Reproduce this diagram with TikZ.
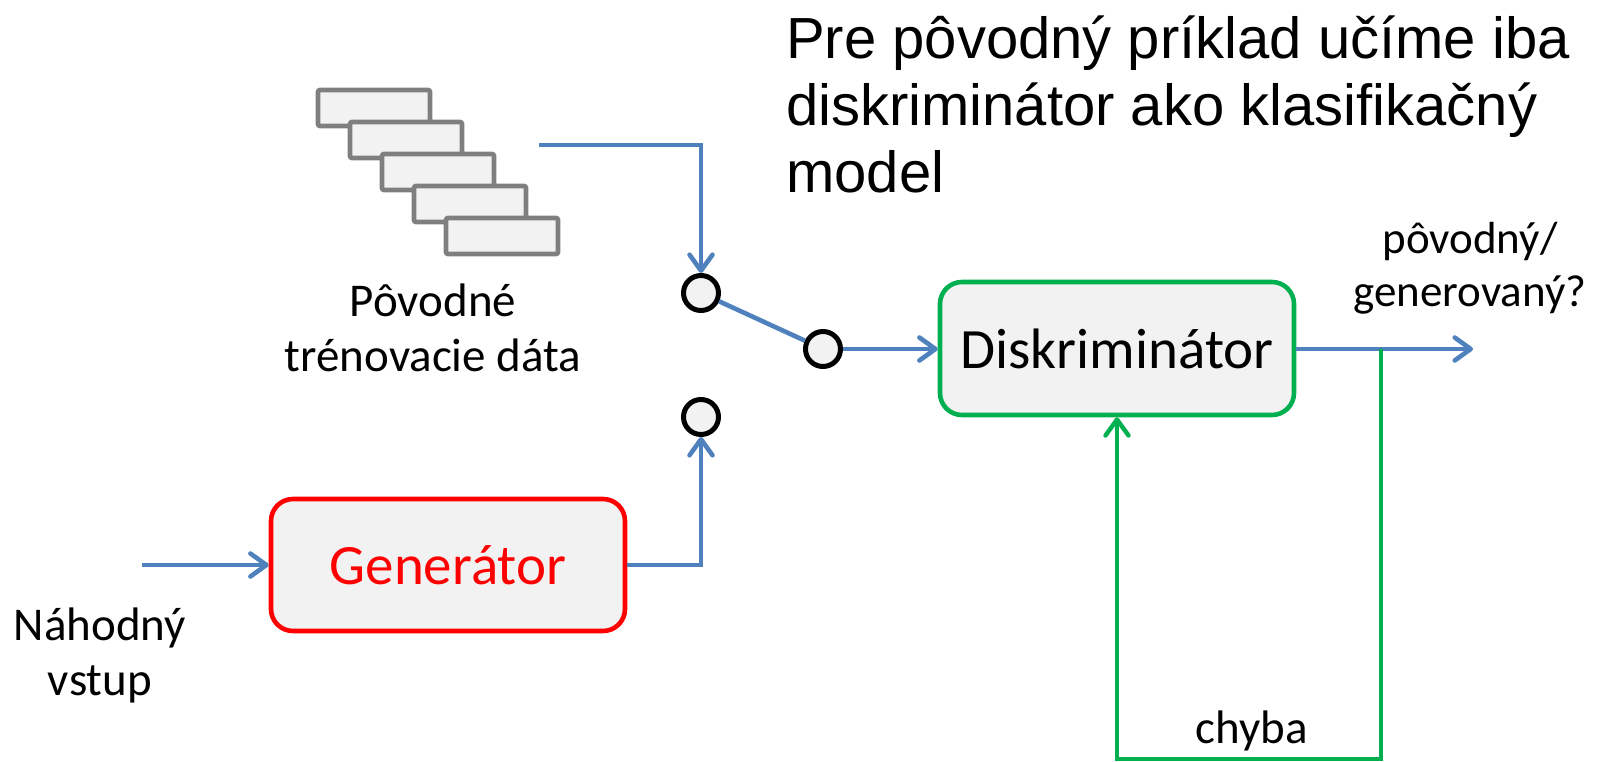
\documentclass[tikz,border=0pt]{standalone}
\usepackage{fontspec}
\setmainfont{Carlito}
\newfontfamily\titlefont{Liberation Sans}
\usetikzlibrary{arrows.meta}

\definecolor{linkblue}{HTML}{4F81BD}
\definecolor{loopgreen}{HTML}{00B050}
\definecolor{genred}{HTML}{FF0000}
\definecolor{cardgray}{HTML}{7F7F7F}
\definecolor{panelfill}{HTML}{F2F2F2}

\tikzset{
  barb/.style={-{Straight Barb[length=16pt,width=23pt,line cap=round,line join=round]}},
  flow/.style={draw=linkblue,line width=4.6pt},
  fback/.style={draw=loopgreen,line width=4.4pt},
  datacard/.style={draw=cardgray,fill=panelfill,line width=4.6pt,rounded corners=2pt,
    minimum width=112pt,minimum height=36pt,inner sep=0pt},
  switchpt/.style={circle,draw=black,fill=panelfill,line width=5pt,minimum size=35pt,inner sep=0pt},
  block/.style={draw,fill=panelfill,line width=4.6pt,rounded corners=22pt,
    minimum width=354pt,inner sep=0pt},
  caption/.style={font=\fontsize{47}{55}\selectfont,align=center,inner sep=0pt},
  headline/.style={font=\titlefont\fontsize{58}{67}\selectfont,anchor=base west,inner sep=0pt},
}

\begin{document}
\begin{tikzpicture}[x=1pt,y=-1pt]
\useasboundingbox (0,0) rectangle (1612,762);

% heading
\node[headline] (t1) at (786,58.6) {Pre pôvodný príklad učíme iba};
\node[headline] (t2) at (786,125.4) {diskriminátor ako klasifikačný};
\node[headline] (t3) at (786,193) {model};

% stack of training samples
\foreach \i in {0,...,4}
  \node[datacard] (d\i) at ({374+32*\i},{108+32*\i}) {};
% (base anchor of a two-line caption sits on its last line)
\node[caption,anchor=base] (datalbl) at (433,371) {Pôvodné\\trénovacie dáta};

% switch contacts
\node[switchpt] (s1) at (701,293) {};
\node[switchpt] (s2) at (823,349) {};
\node[switchpt] (s3) at (701,417) {};

% blocks
\node[block,draw=loopgreen,minimum height=133pt,font=\fontsize{57}{68}\selectfont]
  (disc) at (1117,348.5) {Diskriminátor};
\node[block,draw=genred,text=genred,minimum height=132pt,font=\fontsize{57}{68}\selectfont]
  (gen) at (448,565) {Generátor};

% free ends
\coordinate (datasrc) at (539,145);
\coordinate (noise) at (142,565);
\coordinate (result) at (1473,349);
\coordinate (tap) at (1381,349);

% signal flow
\draw[flow,barb] (datasrc) -| (s1.north);
\draw[flow,barb] (noise) -- (gen.west);
\draw[flow,barb] (gen.east) -| (s3.south);
\draw[flow] (s1) -- (s2);
\draw[flow,barb] (s2.east) -- (s2.east -| disc.west);
\draw[flow,barb] (disc.east |- result) -- (result);

% error feedback loop
\draw[fback,barb] (tap) -- ++(0,410) -| (disc.south);

% labels
\node[caption,anchor=base] (noiselbl) at (100,695) {Náhodný\\vstup};
\node[caption,anchor=base,font=\fontsize{45}{53}\selectfont] (outlbl) at (1470,306) {pôvodný/\\generovaný?};
\node[caption,anchor=base] (errlbl) at (1252,743) {chyba};
\end{tikzpicture}
\end{document}
